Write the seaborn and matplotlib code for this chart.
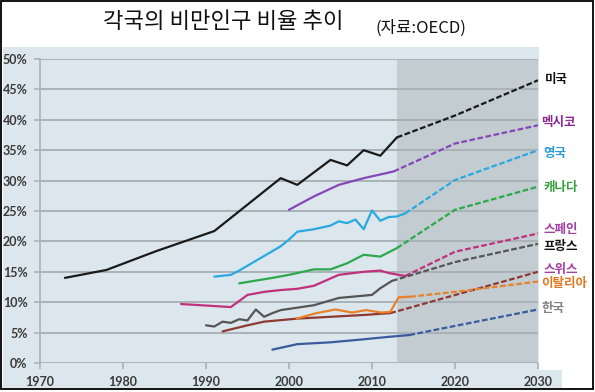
import matplotlib
matplotlib.use("Agg")
import matplotlib.pyplot as plt
from matplotlib.patches import Rectangle
import seaborn as sns

# ---------------- data ----------------
us_years = [1973, 1978, 1984, 1991, 1999, 2001, 2005, 2007, 2009, 2011, 2013]
us_vals = [14.0, 15.3, 18.4, 21.7, 30.4, 29.3, 33.4, 32.5, 35.0, 34.1, 37.1]
us_proj_years = [2013, 2020, 2030]
us_proj_vals = [37.1, 40.7, 46.5]

mx_years = [2000, 2003, 2006, 2009, 2012.6]
mx_vals = [25.2, 27.4, 29.3, 30.4, 31.5]
mx_proj_years = [2012.6, 2020, 2030]
mx_proj_vals = [31.5, 36.1, 39.1]

uk_years = [1991, 1993, 1994, 1996, 1998, 1999, 2000, 2001, 2003, 2005, 2006,
            2007, 2008, 2009, 2010, 2011, 2012, 2013, 2014]
uk_vals = [14.2, 14.5, 15.2, 16.8, 18.4, 19.2, 20.3, 21.6, 22.0, 22.6, 23.3,
           23.0, 23.6, 22.0, 25.1, 23.4, 24.0, 24.1, 24.6]
uk_proj_years = [2014, 2020, 2030]
uk_proj_vals = [24.6, 30.1, 35.0]

ca_years = [1994, 1998, 2000, 2003, 2005, 2007, 2009, 2011, 2013]
ca_vals = [13.1, 14.0, 14.5, 15.4, 15.4, 16.4, 17.8, 17.5, 18.9]
ca_proj_years = [2013, 2020, 2030]
ca_proj_vals = [18.9, 25.2, 29.0]

es_years = [1987, 1993, 1995, 1997, 1999, 2001, 2003, 2006, 2009, 2011, 2012, 2014]
es_vals = [9.7, 9.2, 11.2, 11.7, 12.0, 12.2, 12.7, 14.5, 15.0, 15.2, 14.8, 14.3]
es_proj_years = [2014, 2020, 2030]
es_proj_vals = [14.3, 18.3, 21.3]

fr_years = [1990, 1991, 1992, 1993, 1994, 1995, 1996, 1997, 1998, 1999, 2001,
            2003, 2006, 2010, 2011, 2012.4]
fr_vals = [6.2, 6.0, 6.8, 6.6, 7.2, 7.0, 8.8, 7.6, 8.2, 8.7, 9.1,
           9.5, 10.7, 11.2, 12.3, 13.5]
fr_proj_years = [2012.4, 2020, 2030]
fr_proj_vals = [13.5, 16.6, 19.6]

ch_years = [1992, 1995, 1997, 2001, 2005, 2009, 2012.2]
ch_vals = [5.2, 6.2, 6.8, 7.3, 7.6, 7.9, 8.2]
ch_proj_years = [2012.2, 2030]
ch_proj_vals = [8.2, 15.0]

it_years = [2000.9, 2003.3, 2005.6, 2007.6, 2009.3, 2011.1, 2012.2, 2013.2, 2014.6]
it_vals = [7.3, 8.2, 8.8, 8.3, 8.7, 8.3, 8.4, 10.8, 10.9]
it_proj_years = [2014.6, 2020, 2030]
it_proj_vals = [10.9, 11.7, 13.4]

kr_years = [1998, 2001, 2005, 2009, 2012, 2014.5]
kr_vals = [2.2, 3.1, 3.4, 3.9, 4.3, 4.6]
kr_proj_years = [2014.5, 2020, 2030]
kr_proj_vals = [4.6, 6.1, 8.8]

labels = ["미국", "멕시코", "영국", "캐나다", "스페인", "프랑스", "스위스", "이탈리아", "한국"]
label_y = [46.7, 39.6, 34.4, 28.9, 22.0, 19.2, 15.3, 13.0, 8.9]
label_x = [2030.8, 2030.4, 2030.7, 2030.7, 2030.7, 2030.7, 2030.7, 2030.4, 2030.4]

x_ticks = [1970, 1980, 1990, 2000, 2010, 2020, 2030]
y_ticks = [0, 5, 10, 15, 20, 25, 30, 35, 40, 45, 50]
y_tick_labels = ["0%", "5%", "10%", "15%", "20%", "25%", "30%", "35%", "40%", "45%", "50%"]

title = "각국의 비만인구 비율 추이"
source = "(자료:OECD)"

# ---------------- style ----------------
sns.set_style("white")
plt.rcParams['font.family'] = ['Noto Sans CJK KR', 'DejaVu Sans']

line_colors = ["#1a1a1a", "#8746b8", "#2aa9e0", "#2ea84c", "#c0307c",
               "#555555", "#8c3a32", "#e8822a", "#3a5c9e"]
label_colors = ["#111111", "#8a2a8e", "#2a9ad6", "#36a040", "#a33ea6",
                "#111111", "#a33ea6", "#e07820", "#808080"]

W, H = 595, 392
fig = plt.figure(figsize=(W / 100, H / 100), dpi=100)
fig.patch.set_facecolor("white")

# blue panel behind the chart
bg = "#dbe7ec"
fig.patches.append(Rectangle((3 / W, (H - 388) / H), 536 / W, 341 / H,
                             transform=fig.transFigure, facecolor=bg,
                             edgecolor="none", zorder=-10))
fig.patches.append(Rectangle((539 / W, (H - 388) / H), 23 / W, 18 / H,
                             transform=fig.transFigure, facecolor=bg,
                             edgecolor="none", zorder=-10))
# outer border
fig.patches.append(Rectangle((1 / W, (H - 389) / H), 592 / W, 388 / H,
                             transform=fig.transFigure, facecolor="none",
                             edgecolor="black", linewidth=1.3, zorder=10))

ax = fig.add_axes([40 / W, (H - 363) / H, 498 / W, 304 / H])
ax.set_zorder(1)
ax.set_facecolor("none")
ax.patch.set_alpha(0)

ax.axvspan(2013, 2030, color="#c2ccd1", zorder=0, lw=0)

series = [
    (us_years, us_vals, us_proj_years, us_proj_vals),
    (mx_years, mx_vals, mx_proj_years, mx_proj_vals),
    (uk_years, uk_vals, uk_proj_years, uk_proj_vals),
    (ca_years, ca_vals, ca_proj_years, ca_proj_vals),
    (es_years, es_vals, es_proj_years, es_proj_vals),
    (fr_years, fr_vals, fr_proj_years, fr_proj_vals),
    (ch_years, ch_vals, ch_proj_years, ch_proj_vals),
    (it_years, it_vals, it_proj_years, it_proj_vals),
    (kr_years, kr_vals, kr_proj_years, kr_proj_vals),
]

lw = 1.6
for (hx, hy, px, py), c in zip(series, line_colors):
    sns.lineplot(x=hx, y=hy, ax=ax, color=c, linewidth=lw, zorder=3)
    sns.lineplot(x=px, y=py, ax=ax, color=c, linewidth=lw, zorder=3)
    ax.lines[-1].set_dashes((2.6, 1.1))

for t, xx, yy, c in zip(labels, label_x, label_y, label_colors):
    ax.text(xx, yy, t, color=c, fontsize=9, fontweight="bold",
            ha="left", va="center", clip_on=False)

ax.set_xlim(1970, 2030)
ax.set_ylim(0, 50)
ax.set_xticks(x_ticks)
ax.set_yticks(y_ticks)
ax.set_yticklabels(y_tick_labels)
ax.set_xlabel("")
ax.set_ylabel("")

grid_c = "#a9b2b6"
ax.yaxis.grid(True, color=grid_c, linewidth=1.4, zorder=1)
ax.xaxis.grid(False)
ax.set_axisbelow(True)
for s in ["top", "right", "bottom"]:
    ax.spines[s].set_visible(False)
ax.spines["left"].set_color(grid_c)
ax.spines["left"].set_linewidth(1.2)
ax.tick_params(axis="both", which="both", length=4, width=1.2, color=grid_c,
               direction="out", labelcolor="#3a3a3a", labelsize=9)
ax.tick_params(axis="y", pad=5)
ax.tick_params(axis="x", pad=5, bottom=True)
ax.tick_params(axis="y", left=True)
for lab in ax.get_xticklabels() + ax.get_yticklabels():
    lab.set_family(["Lato", "DejaVu Sans"])
    lab.set_fontweight("bold")

fig.text(223 / W, 1 - 22 / H, title, fontsize=16, ha="center", va="center",
         color="#111111")
fig.text(421 / W, 1 - 28 / H, source, fontsize=12, ha="center", va="center",
         color="#111111")

fig.savefig("out.png", dpi=100, facecolor="white")
